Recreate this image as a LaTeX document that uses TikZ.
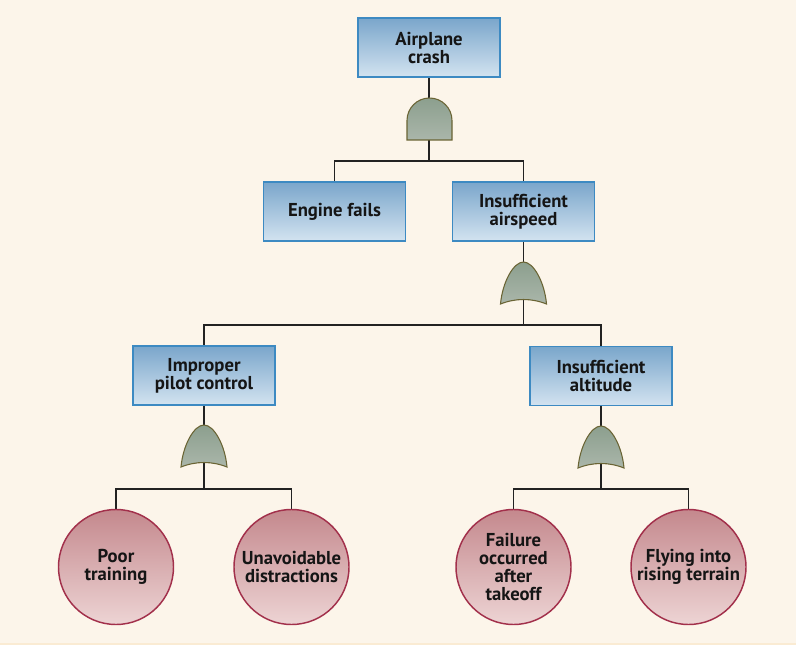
\documentclass[tikz,border=0pt]{standalone}
\usepackage{fontspec}
\setmainfont{PT Sans}
\usetikzlibrary{positioning, calc}

\definecolor{paper}{HTML}{FCF5EA}
\definecolor{paperedge}{HTML}{FAEBD3}
\definecolor{boxtop}{HTML}{7AA6CB}
\definecolor{boxbot}{HTML}{D3E3F0}
\definecolor{boxedge}{HTML}{3D8AC2}
\definecolor{circtop}{HTML}{C4888D}
\definecolor{circbot}{HTML}{EDD4D4}
\definecolor{circedge}{HTML}{A2304B}
\definecolor{gatetop}{HTML}{8C9F8E}
\definecolor{gatebot}{HTML}{AAB6AA}
\definecolor{gateedge}{HTML}{6A6434}
\definecolor{wirecol}{HTML}{222222}
\definecolor{ink}{HTML}{151515}

\pgfdeclarelayer{paperlayer}
\pgfdeclarelayer{wirelayer}
\pgfsetlayers{paperlayer,wirelayer,main}

\begin{document}
\begin{tikzpicture}[
    x=0.75pt, y=0.75pt,
    event/.style={draw=boxedge, line width=1pt, top color=boxtop,
                  bottom color=boxbot, minimum width=106.5pt,
                  minimum height=44.25pt, inner sep=2pt, align=center,
                  text=ink, font=\bfseries\fontsize{14}{13.5}\selectfont},
    basic/.style={circle, draw=circedge, line width=1.1pt, top color=circtop,
                  bottom color=circbot, minimum size=86.25pt, inner sep=0pt,
                  align=center, text=ink,
                  font=\bfseries\fontsize{14}{13.5}\selectfont},
    wire/.style={draw=wirecol, line width=1pt},
    gatebody/.style={draw=gateedge, line width=0.8pt, top color=gatetop,
                     bottom color=gatebot},
    andgate/.pic={
      \path[gatebody] (-22.5,0) -- (-22.5,19.5)
        arc[start angle=180, end angle=0, radius=22.5] -- (22.5,0) -- cycle;
      \coordinate (-top) at (0,42);
      \coordinate (-out) at (0,0);
    },
    orgate/.pic={
      \path[gatebody] (-23,0) .. controls (-21,22) and (-10,42) .. (0,42)
        .. controls (10,42) and (21,22) .. (23,0)
        .. controls (8,6) and (-8,6) .. (-23,0) -- cycle;
      \coordinate (-top) at (0,42);
      \coordinate (-out) at (0,4.5);
    }
  ]
  \begin{pgfonlayer}{paperlayer}
    \fill[paper] (0,0) rectangle (796,-645);
    \fill[paperedge] (0,-643) rectangle (796,-645);
  \end{pgfonlayer}
  \useasboundingbox (0,0) rectangle (796,-645);

  % Top event and AND gate
  \node[event] (crash) at (429,-47.5) {Airplane\\crash};
  \pic (g0) at (429.5,-140) {andgate};

  % Second level
  \node[event] (engine) at (334.5,-211.5) {Engine fails};
  \node[event] (speed) at (523.5,-211.5) {Insufficient\\airspeed};
  \pic (g1) at (523.5,-304) {orgate};

  % Third level
  \node[event] (pilot) at (204,-375.5) {Improper\\pilot control};
  \node[event] (altitude) at (601,-376) {Insufficient\\altitude};
  \pic (g2) at (204,-467) {orgate};
  \pic (g3) at (601,-468) {orgate};

  % Basic events
  \foreach \name/\x/\txt in {poor/116/{Poor\\training},
                             distract/291.5/{Unavoidable\\distractions},
                             failure/513.5/{Failure\\occurred\\after\\takeoff},
                             terrain/688.5/{Flying into\\rising terrain}} {
    \node[basic] (\name) at (\x,-567) {\txt};
  }

  % Connectors
  \coordinate (bus0) at (0,-161);
  \coordinate (bus1) at (0,-325);
  \coordinate (bus2) at (0,-489);
  \begin{pgfonlayer}{wirelayer}
    \draw[wire] (crash.south) -- (crash.south |- bus0);
    \draw[wire] (engine.north) |- (speed.north |- bus0) -- (speed.north);
    \draw[wire] (speed.south) -- (speed.south |- bus1);
    \draw[wire] (pilot.north) |- (altitude.north |- bus1) -- (altitude.north);
    \draw[wire] (pilot.south) -- (pilot.south |- bus2);
    \draw[wire] (altitude.south) -- (altitude.south |- bus2);
    \draw[wire] (poor.north) |- (distract.north |- bus2) -- (distract.north);
    \draw[wire] (failure.north) |- (terrain.north |- bus2) -- (terrain.north);
  \end{pgfonlayer}
\end{tikzpicture}
\end{document}
